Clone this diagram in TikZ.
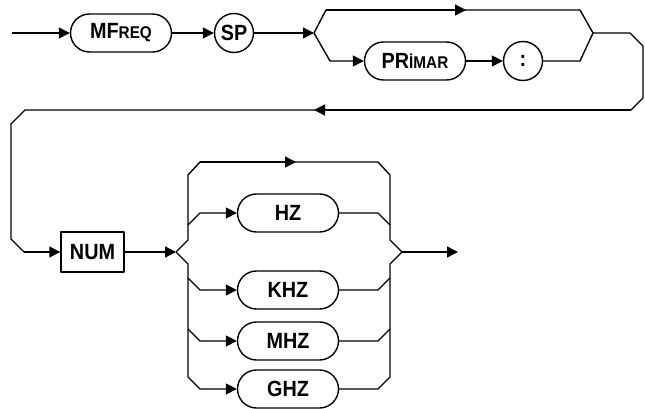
\documentclass[tikz,border=0pt]{standalone}
\usepackage{fontspec}
\setmainfont[FakeStretch=0.9]{Liberation Sans}
\usetikzlibrary{shapes.misc,arrows.meta}
\begin{document}
\begin{tikzpicture}[x=1pt,y=-1pt,line width=1.4pt,line join=round,
  every node/.style={font=\fontsize{22}{24}\selectfont\bfseries},
  kw/.style={draw,rounded rectangle,minimum width=101pt,minimum height=38pt,inner sep=0pt},
  circ/.style={draw,circle,minimum size=39pt,inner sep=0pt},
  numbox/.style={draw,rectangle,minimum width=63pt,minimum height=40pt,inner sep=0pt},
  arr/.style={-{Triangle[length=11pt,width=11pt]}}]
\useasboundingbox (0,0) rectangle (645,409);
% ---- top row ----
\coordinate (s) at (12,33);
\node[kw] (mfreq) at (121,33) {MF{\fontsize{17}{17}\selectfont REQ}};
\node[circ] (sp) at (234,33) {SP};
\coordinate (f1) at (314,33);
\coordinate (t1) at (326,10);
\coordinate (ta) at (466,10);
\coordinate (t2) at (580,10);
\coordinate (b1) at (330,61);
\node[kw] (primar) at (415,61) {PR{\fontsize{17}{17}\selectfont İMAR}};
\node[circ] (colon) at (523,61) {:};
\coordinate (b2) at (580,61);
\coordinate (j1) at (593,33);
\coordinate (r1) at (630,33);
\coordinate (r2) at (643,46);
\coordinate (r3) at (643,98);
\coordinate (r4) at (631,110);
\coordinate (ra) at (314,110);
\coordinate (r5) at (25,110);
\coordinate (r6) at (11,124);
\coordinate (r7) at (11,239);
\coordinate (r8) at (24,252);
\draw[arr] (s) -- (mfreq.west);
\draw[arr] (mfreq.east) -- (sp.west);
\draw[arr] (sp.east) -- (f1);
\draw (f1) -- (t1) -- (t2) -- (j1);
\draw[arr] (t1) -- (ta);
\draw[arr] (f1) -- (b1) -- (primar.west);
\draw[arr] (primar.east) -- (colon.west);
\draw (colon.east) -- (b2) -- (j1);
\draw (j1) -- (r1) -- (r2) -- (r3) -- (r4) -- (r5) -- (r6) -- (r7) -- (r8);
\draw[arr] (r4) -- (ra);
% ---- second row ----
\node[numbox] (num) at (92.5,252) {NUM};
\draw[arr] (r8) -- (num.west);
\coordinate (f2) at (176,252);
\draw[arr] (num.east) -- (f2);
\coordinate (u1) at (188,240);
\coordinate (u2) at (188,175);
\coordinate (u3) at (200,162);
\coordinate (ua) at (296,162);
\coordinate (u4) at (378,162);
\coordinate (u5) at (390,175);
\coordinate (u6) at (390,240);
\coordinate (f3) at (402,252);
\draw (f2) -- (u1) -- (u2) -- (u3) -- (u4) -- (u5) -- (u6) -- (f3);
\draw[arr] (u3) -- (ua);
% HZ
\node[kw] (hz) at (288,213) {HZ};
\coordinate (h1) at (188,225);
\coordinate (h2) at (200,213);
\coordinate (h3) at (378,213);
\coordinate (h4) at (390,225);
\draw[arr] (h1) -- (h2) -- (hz.west);
\draw (hz.east) -- (h3) -- (h4);
% KHZ
\node[kw] (khz) at (288,290) {KHZ};
\coordinate (k1) at (188,278);
\coordinate (k2) at (200,290);
\coordinate (k3) at (378,290);
\coordinate (k4) at (390,278);
\draw[arr] (k1) -- (k2) -- (khz.west);
\draw (khz.east) -- (k3) -- (k4);
% MHZ
\node[kw] (mhz) at (288,341) {MHZ};
\coordinate (m1) at (188,329);
\coordinate (m2) at (200,341);
\coordinate (m3) at (378,341);
\coordinate (m4) at (390,329);
\draw[arr] (m1) -- (m2) -- (mhz.west);
\draw (mhz.east) -- (m3) -- (m4);
% GHZ
\node[kw] (ghz) at (288,389) {GHZ};
\coordinate (d1) at (188,264);
\coordinate (d2) at (188,377);
\coordinate (d3) at (200,389);
\coordinate (e1) at (390,264);
\coordinate (e2) at (390,377);
\coordinate (e3) at (378,389);
\draw[arr] (f2) -- (d1) -- (d2) -- (d3) -- (ghz.west);
\draw (ghz.east) -- (e3) -- (e2) -- (e1) -- (f3);
% exit
\coordinate (x) at (458,252);
\draw[arr] (f3) -- (x);
\end{tikzpicture}
\end{document}
